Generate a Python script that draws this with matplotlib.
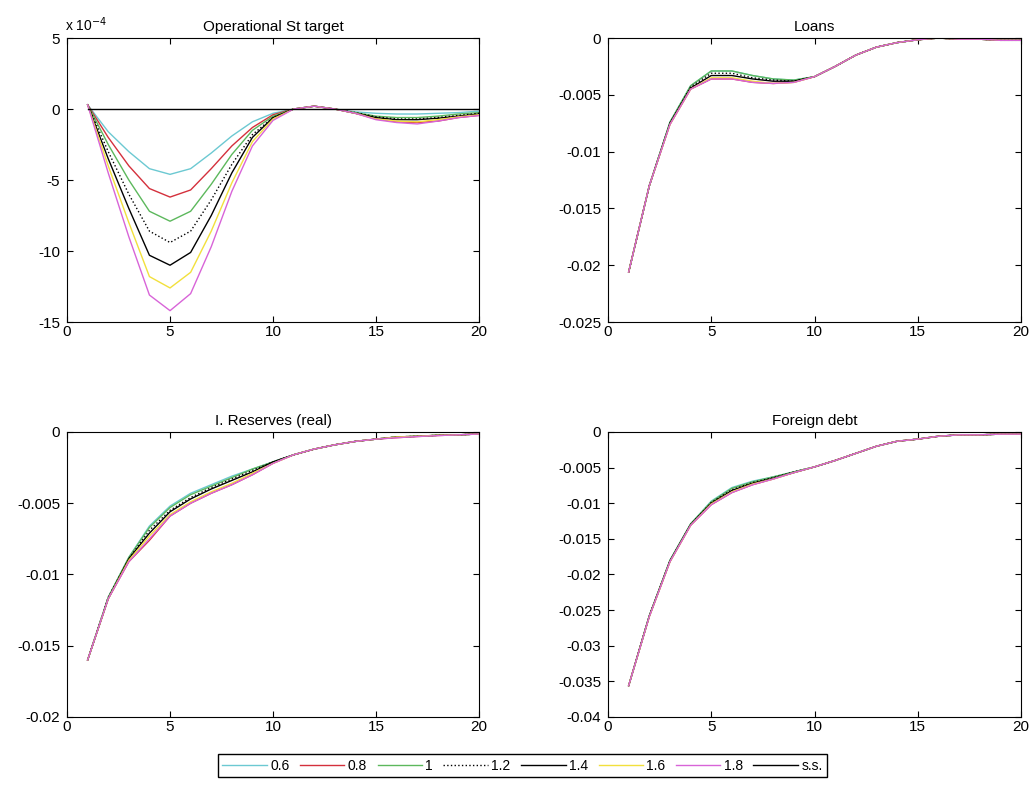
import numpy as np
import matplotlib.pyplot as plt

plt.rcParams['font.family'] = ['Liberation Sans', 'DejaVu Sans']

periods = np.arange(1, 21)
labels = ['0.6', '0.8', '1', '1.2', '1.4', '1.6', '1.8', 's.s.']
colors = ['#6cc9d2', '#d4303c', '#5cb85c', 'black', 'black', '#f2e03c', '#d864d8', 'black']
styles = ['-', '-', '-', ':', '-', '-', '-', '-']

# Operational St target (x 1e-4)
op_target = [
    [0.3, -1.6, -3.0, -4.2, -4.6, -4.2, -3.1, -1.9, -0.9, -0.3, 0.0, 0.2, 0.0, -0.2, -0.3, -0.35, -0.35, -0.3, -0.25, -0.15],
    [0.3, -2.0, -4.0, -5.6, -6.2, -5.7, -4.2, -2.6, -1.3, -0.4, 0.0, 0.2, 0.0, -0.3, -0.7, -0.9, -0.95, -0.85, -0.6, -0.45],
    [0.3, -2.5, -5.0, -7.2, -7.9, -7.2, -5.3, -3.2, -1.5, -0.5, 0.0, 0.2, 0.0, -0.25, -0.5, -0.6, -0.6, -0.5, -0.35, -0.25],
    [0.3, -3.0, -6.0, -8.6, -9.4, -8.6, -6.4, -3.9, -1.8, -0.6, 0.0, 0.2, 0.0, -0.25, -0.55, -0.7, -0.7, -0.6, -0.45, -0.3],
    [0.3, -3.5, -7.0, -10.3, -11.0, -10.1, -7.5, -4.5, -2.0, -0.6, 0.0, 0.2, 0.0, -0.3, -0.6, -0.75, -0.75, -0.65, -0.5, -0.35],
    [0.3, -4.0, -8.0, -11.8, -12.6, -11.5, -8.6, -5.2, -2.3, -0.7, 0.0, 0.2, 0.0, -0.3, -0.7, -0.85, -0.9, -0.75, -0.55, -0.4],
    [0.3, -4.5, -9.0, -13.1, -14.2, -13.0, -9.7, -5.8, -2.6, -0.8, 0.0, 0.2, 0.0, -0.3, -0.75, -0.95, -1.05, -0.85, -0.6, -0.45],
]

loans = [
    [-0.0206, -0.0130, -0.0074, -0.0042, -0.0029, -0.0029, -0.0033, -0.0036, -0.0037, -0.0034, -0.0025, -0.0015, -0.0008, -0.0004, -0.00015, 0.0, -0.0001, -0.0001, -0.0002, -0.0002],
    [-0.0206, -0.0130, -0.0076, -0.0045, -0.0036, -0.0036, -0.0039, -0.0040, -0.0039, -0.0034, -0.0025, -0.0015, -0.0008, -0.0004, -0.00015, 0.0, -0.0001, -0.0001, -0.0002, -0.0002],
    [-0.0206, -0.0130, -0.0074, -0.0042, -0.0029, -0.0029, -0.0033, -0.0036, -0.0037, -0.0034, -0.0025, -0.0015, -0.0008, -0.0004, -0.00015, 0.0, -0.0001, -0.0001, -0.0002, -0.0002],
    [-0.0206, -0.0130, -0.0075, -0.0043, -0.0031, -0.0031, -0.0035, -0.0037, -0.0038, -0.0034, -0.0025, -0.0015, -0.0008, -0.0004, -0.00015, 0.0, -0.0001, -0.0001, -0.0002, -0.0002],
    [-0.0206, -0.0130, -0.0075, -0.0044, -0.0033, -0.0033, -0.0036, -0.0038, -0.0038, -0.0034, -0.0025, -0.0015, -0.0008, -0.0004, -0.00015, 0.0, -0.0001, -0.0001, -0.0002, -0.0002],
    [-0.0206, -0.0130, -0.0076, -0.0045, -0.0035, -0.0035, -0.0038, -0.0040, -0.0039, -0.0034, -0.0025, -0.0015, -0.0008, -0.0004, -0.00015, 0.0, -0.0001, -0.0001, -0.0002, -0.0002],
    [-0.0206, -0.0130, -0.0076, -0.0045, -0.0036, -0.0036, -0.0039, -0.0040, -0.0039, -0.0034, -0.0025, -0.0015, -0.0008, -0.0004, -0.00015, 0.0, -0.0001, -0.0001, -0.0002, -0.0002],
]

reserves = [
    [-0.0160, -0.0116, -0.0088, -0.0066, -0.0052, -0.0043, -0.0037, -0.0031, -0.0026, -0.0021, -0.0016, -0.0012, -0.0009, -0.00066, -0.0005, -0.00035, -0.0003, -0.00023, -0.0002, -0.00014],
    [-0.0160, -0.0117, -0.0091, -0.0076, -0.0059, -0.0050, -0.0043, -0.0037, -0.0030, -0.0022, -0.0016, -0.0012, -0.0009, -0.00066, -0.0005, -0.0004, -0.00032, -0.00025, -0.0002, -0.00014],
    [-0.0160, -0.0116, -0.0088, -0.0067, -0.0053, -0.0044, -0.0038, -0.0032, -0.0026, -0.0021, -0.0016, -0.0012, -0.0009, -0.00066, -0.0005, -0.00035, -0.0003, -0.00023, -0.0002, -0.00014],
    [-0.0160, -0.0116, -0.0089, -0.0069, -0.0055, -0.0046, -0.0039, -0.0033, -0.0027, -0.0021, -0.0016, -0.0012, -0.0009, -0.00066, -0.0005, -0.00035, -0.0003, -0.00023, -0.0002, -0.00014],
    [-0.0160, -0.0117, -0.0089, -0.0071, -0.0056, -0.0047, -0.0040, -0.0034, -0.0028, -0.0021, -0.0016, -0.0012, -0.0009, -0.00066, -0.0005, -0.00035, -0.0003, -0.00023, -0.0002, -0.00014],
    [-0.0160, -0.0117, -0.0090, -0.0073, -0.0058, -0.0049, -0.0042, -0.0036, -0.0029, -0.0022, -0.0016, -0.0012, -0.0009, -0.00066, -0.0005, -0.00035, -0.0003, -0.00023, -0.0002, -0.00014],
    [-0.0160, -0.0117, -0.0091, -0.0075, -0.0059, -0.0050, -0.0043, -0.0037, -0.0030, -0.0022, -0.0016, -0.0012, -0.0009, -0.00066, -0.0005, -0.0004, -0.00032, -0.00025, -0.0002, -0.00014],
]

foreign_debt = [
    [-0.0356, -0.0258, -0.0180, -0.0129, -0.0097, -0.0078, -0.0069, -0.0063, -0.0056, -0.0049, -0.0040, -0.0030, -0.0020, -0.0013, -0.0010, -0.0006, -0.0004, -0.0004, -0.0003, -0.0003],
    [-0.0356, -0.0259, -0.0182, -0.0131, -0.0102, -0.0085, -0.0074, -0.0066, -0.0057, -0.0049, -0.0040, -0.0030, -0.0020, -0.0013, -0.0010, -0.0006, -0.0004, -0.0004, -0.0003, -0.0003],
    [-0.0356, -0.0258, -0.0180, -0.0129, -0.0098, -0.0079, -0.0070, -0.0063, -0.0056, -0.0049, -0.0040, -0.0030, -0.0020, -0.0013, -0.0010, -0.0006, -0.0004, -0.0004, -0.0003, -0.0003],
    [-0.0356, -0.0258, -0.0181, -0.0130, -0.0099, -0.0081, -0.0071, -0.0064, -0.0056, -0.0049, -0.0040, -0.0030, -0.0020, -0.0013, -0.0010, -0.0006, -0.0004, -0.0004, -0.0003, -0.0003],
    [-0.0356, -0.0258, -0.0181, -0.0130, -0.0100, -0.0082, -0.0072, -0.0065, -0.0057, -0.0049, -0.0040, -0.0030, -0.0020, -0.0013, -0.0010, -0.0006, -0.0004, -0.0004, -0.0003, -0.0003],
    [-0.0356, -0.0259, -0.0182, -0.0131, -0.0101, -0.0084, -0.0073, -0.0066, -0.0057, -0.0049, -0.0040, -0.0030, -0.0020, -0.0013, -0.0010, -0.0006, -0.0004, -0.0004, -0.0003, -0.0003],
    [-0.0356, -0.0259, -0.0182, -0.0131, -0.0102, -0.0085, -0.0074, -0.0066, -0.0057, -0.0049, -0.0040, -0.0030, -0.0020, -0.0013, -0.0010, -0.0006, -0.0004, -0.0004, -0.0003, -0.0003],
]

steady_state = np.zeros(len(periods))

panels = [
    ('Operational St target', op_target, (-15, 5), [-15, -10, -5, 0, 5]),
    ('Loans', loans, (-0.025, 0), [-0.025, -0.02, -0.015, -0.01, -0.005, 0]),
    ('I. Reserves (real)', reserves, (-0.02, 0), [-0.02, -0.015, -0.01, -0.005, 0]),
    ('Foreign debt', foreign_debt, (-0.04, 0), [-0.04, -0.035, -0.03, -0.025, -0.02, -0.015, -0.01, -0.005, 0]),
]

positions = [
    [0.0649, 0.5903, 0.3988, 0.3613],
    [0.5886, 0.5903, 0.3998, 0.3613],
    [0.0649, 0.0878, 0.3988, 0.3626],
    [0.5886, 0.0878, 0.3998, 0.3626],
]

fig = plt.figure(figsize=(10.33, 7.86), dpi=100)

handles = []
for k, (title, series, ylim, yticks) in enumerate(panels):
    ax = fig.add_axes(positions[k])
    hs = []
    for i, vals in enumerate(series):
        h, = ax.plot(periods, vals, color=colors[i], linestyle=styles[i], linewidth=1.0)
        hs.append(h)
    if k == 0:
        h, = ax.plot(periods, steady_state, color=colors[7], linewidth=1.0)
        hs.append(h)
        handles = hs
    ax.set_xlim(0, 20)
    ax.set_ylim(*ylim)
    ax.set_xticks([0, 5, 10, 15, 20])
    ax.set_yticks(yticks)
    ax.set_yticklabels([('%g' % t) for t in yticks])
    ax.tick_params(direction='in', top=True, right=True, labelsize=11, length=4)
    ax.tick_params(axis='y', pad=5)
    ax.tick_params(axis='x', pad=2)
    for s in ax.spines.values():
        s.set_linewidth(0.8)
    ax.set_title(title, fontsize=11, pad=5)
    if k == 0:
        ax.text(-0.005, 1.015, r'x 10$^{-4}$', transform=ax.transAxes, fontsize=10,
                ha='left', va='bottom')

fig.legend(handles, labels, loc='center', ncol=8, fontsize=10,
           bbox_to_anchor=(0.5058, 0.026), frameon=True, fancybox=False,
           edgecolor='black', handlelength=3.2, handletextpad=0.25,
           columnspacing=0.75, borderpad=0.3, borderaxespad=0, framealpha=1)

fig.savefig('out.png', dpi=100)
